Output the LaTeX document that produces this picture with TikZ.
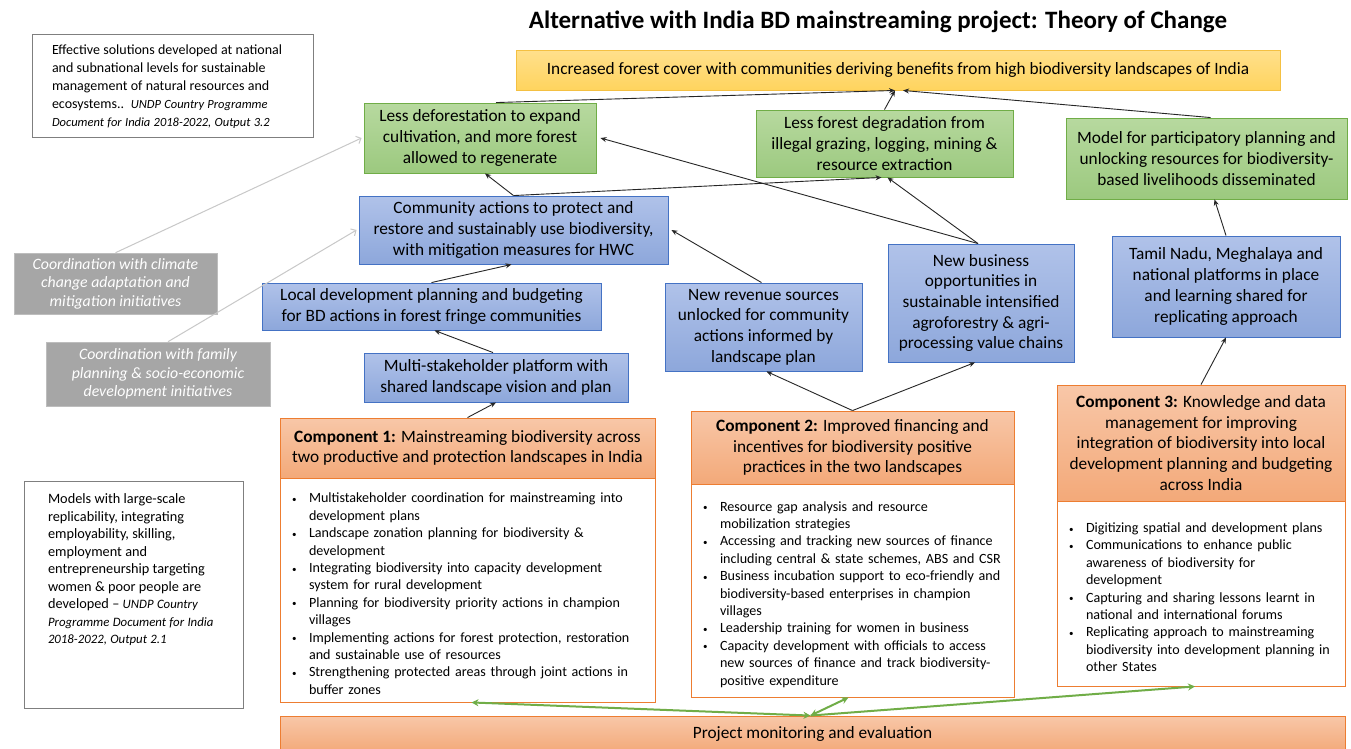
\documentclass[tikz,border=0pt]{standalone}
\usepackage{fontspec}
\setmainfont{Carlito}
\usetikzlibrary{arrows.meta}
\definecolor{yelTop}{HTML}{FFE08C}
\definecolor{yelBot}{HTML}{FFD45E}
\definecolor{yelLine}{HTML}{F4C042}
\definecolor{grTop}{HTML}{B7D99F}
\definecolor{grBot}{HTML}{9CC97F}
\definecolor{grLine}{HTML}{70AD47}
\definecolor{blTop}{HTML}{B0C2E9}
\definecolor{blBot}{HTML}{8DA7DB}
\definecolor{blLine}{HTML}{4472C4}
\definecolor{orTop}{HTML}{F8C7A8}
\definecolor{orBot}{HTML}{F3A979}
\definecolor{orLine}{HTML}{ED7D31}
\definecolor{gyFill}{HTML}{A6A6A6}
\definecolor{gyEdge}{HTML}{BDBDBD}
\definecolor{gyArrow}{HTML}{C8C8C8}
\definecolor{wbLine}{HTML}{7F7F7F}
\def\nl{\hfil\break}
\newcommand{\bul}[1]{\par\hangindent=19pt\hangafter=1\noindent\makebox[19pt][l]{\hspace{2pt}{\fontsize{9}{9}\selectfont\raisebox{0.5pt}{\textbullet}}}#1\par}
\tikzset{
  box/.style={rectangle, line width=0.9pt, align=center, inner sep=2pt,
    font=\fontsize{17.3}{20.7}\selectfont},
  yelbox/.style={box, draw=yelLine, top color=yelTop, bottom color=yelBot},
  grbox/.style={box, draw=grLine, top color=grTop, bottom color=grBot},
  blbox/.style={box, draw=blLine, top color=blTop, bottom color=blBot},
  orbox/.style={box, draw=orLine, top color=orTop, bottom color=orBot},
  gybox/.style={box, draw=gyEdge, line width=0.6pt, fill=gyFill, text=white,
    font=\fontsize{15.8}{18.6}\selectfont\itshape},
  wbox/.style={rectangle, draw=wbLine, line width=0.8pt, fill=white, align=left,
    inner sep=0pt},
  bodybox/.style={rectangle, draw=orLine, line width=0.9pt, fill=white,
    align=left, inner xsep=10pt, inner ysep=0pt,
    font=\fontsize{14.1}{17.4}\selectfont},
  arr/.style={draw=black!85, line width=0.9pt, -{Stealth[length=6pt,width=5pt]}},
  garr/.style={draw=gyArrow, line width=1pt, -{Straight Barb[length=4pt,width=8pt]}},
  grn/.style={draw=grLine, line width=2pt, -{Stealth[length=7pt,width=7pt]}},
  grn2/.style={draw=grLine, line width=2pt, {Stealth[length=7pt,width=7pt]}-{Stealth[length=7pt,width=7pt]}},
}
\begin{document}
\begin{tikzpicture}[x=1pt,y=-1pt]
\useasboundingbox (0,0) rectangle (1351,748);
\clip (0,0) rectangle (1351,748);
\fill[white] (0,0) rectangle (1351,748);

% title
\node[font=\fontsize{25}{28}\selectfont\bfseries] (title) at (878,22)
  {Alternative with India BD mainstreaming project: Theory of Change};

% top-left white box
\node[wbox, minimum width=281pt, minimum height=103pt, text width=271pt] (tl) at (172.5,85.5)
  {\hspace*{15pt}\begin{minipage}{255pt}\raggedright\fontsize{14}{18}\selectfont
   \vspace*{2pt}Effective solutions developed at national\\
   and subnational levels for sustainable\\
   management of natural resources and\\
   ecosystems..\ \ {\fontsize{12.5}{18}\selectfont\itshape UNDP Country Programme}\\
   {\fontsize{12.5}{18}\selectfont\itshape Document for India 2018-2022, Output 3.2}
   \end{minipage}};

% goal
\node[yelbox, minimum width=764pt, minimum height=40pt] (yel) at (898,70)
  {Increased forest cover with communities deriving benefits from high biodiversity landscapes of India};

% outcomes (green)
\node[grbox, minimum width=232pt, minimum height=70pt] (g1) at (480,138)
  {Less deforestation to expand\\ cultivation, and more forest\\ allowed to regenerate};
\node[grbox, minimum width=257pt, minimum height=67pt] (g2) at (884.5,143.5)
  {Less forest degradation from\\ illegal grazing, logging, mining \&\\ resource extraction};
\node[grbox, minimum width=281pt, minimum height=81pt] (g3) at (1206.5,158.5)
  {Model for participatory planning and\\ unlocking resources for biodiversity-\\ based livelihoods disseminated};

% outputs (blue)
\node[blbox, minimum width=309pt, minimum height=68pt] (comm) at (513.5,230)
  {Community actions to protect and\\ restore and sustainably use biodiversity,\\ with mitigation measures for HWC};
\node[blbox, minimum width=339pt, minimum height=47pt] (local) at (431.5,306.5)
  {Local development planning and budgeting\\ for BD actions in forest fringe communities};
\node[blbox, minimum width=264pt, minimum height=49pt] (multi) at (496,377.5)
  {Multi-stakeholder platform with\\ shared landscape vision and plan};
\node[blbox, minimum width=197pt, minimum height=88pt] (rev) at (763.5,327)
  {New revenue sources\\ unlocked for community\\ actions informed by\\ landscape plan};
\node[blbox, minimum width=186pt, minimum height=118pt] (bus) at (981,303)
  {New business\\ opportunities in\\ sustainable intensified\\ agroforestry \& agri-\\ processing value chains};
\node[blbox, minimum width=228pt, minimum height=101pt] (tn) at (1226,286.5)
  {Tamil Nadu, Meghalaya and\\ national platforms in place\\ and learning shared for\\ replicating approach};

% gray coordination boxes
\node[gybox, minimum width=203pt, minimum height=61pt] (gy1) at (115.5,283.5)
  {Coordination with climate\\ change adaptation and\\ mitigation initiatives};
\node[gybox, minimum width=224pt, minimum height=64pt] (gy2) at (158,374)
  {Coordination with family\\ planning \& socio-economic\\ development initiatives};

% models box
\node[wbox, minimum width=219pt, minimum height=227pt, text width=219pt] (models) at (133.5,594.5)
  {\hspace*{24pt}\begin{minipage}[c][201pt][t]{190pt}\raggedright\fontsize{14.3}{17.5}\selectfont
   Models with large-scale\\
   replicability, integrating\\
   employability, skilling,\\
   employment and\\
   entrepreneurship targeting\\
   women \& poor people are\\
   developed -- {\fontsize{12.8}{17.5}\selectfont\itshape UNDP Country}\\
   {\fontsize{12.8}{17.5}\selectfont\itshape Programme Document for India}\\
   {\fontsize{12.8}{17.5}\selectfont\itshape 2018-2022, Output 2.1}
   \end{minipage}};

% component headers
\node[orbox, minimum width=375pt, minimum height=60pt] (c1h) at (467.5,448)
  {\textbf{Component 1:} Mainstreaming biodiversity across\\ two productive and protection landscapes in India};
\node[orbox, minimum width=323pt, minimum height=73pt] (c2h) at (852.5,447.5)
  {\textbf{Component 2:} Improved financing and\\ incentives for biodiversity positive\\ practices in the two landscapes};
\node[orbox, minimum width=288pt, minimum height=116pt] (c3h) at (1201,443)
  {\textbf{Component 3:} Knowledge and data\\ management for improving\\ integration of biodiversity into local\\ development planning and budgeting\\ across India};

% component bodies
\node[bodybox, minimum width=375pt, minimum height=224pt, text width=355pt] (c1b) at (467.5,590)
  {\bul{Multistakeholder coordination for mainstreaming into\nl development plans}
   \bul{Landscape zonation planning for biodiversity \&\nl development}
   \bul{Integrating biodiversity into capacity development\nl system for rural development}
   \bul{Planning for biodiversity priority actions in champion\nl villages}
   \bul{Implementing actions for forest protection, restoration\nl and sustainable use of resources}
   \bul{Strengthening protected areas through joint actions in\nl buffer zones}};
\node[bodybox, minimum width=323pt, minimum height=213pt, text width=303pt] (c2b) at (852.5,590.5)
  {\bul{Resource gap analysis and resource\nl mobilization strategies}
   \bul{Accessing and tracking new sources of finance\nl including central \& state schemes, ABS and CSR}
   \bul{Business incubation support to eco-friendly and\nl biodiversity-based enterprises in champion\nl villages}
   \bul{Leadership training for women in business}
   \bul{Capacity development with officials to access\nl new sources of finance and track biodiversity-\nl positive expenditure}};
\node[bodybox, minimum width=288pt, minimum height=185pt, text width=268pt] (c3b) at (1201,593.5)
  {\bul{Digitizing spatial and development plans}
   \bul{Communications to enhance public\nl awareness of biodiversity for\nl development}
   \bul{Capturing and sharing lessons learnt in\nl national and international forums}
   \bul{Replicating approach to mainstreaming\nl biodiversity into development planning in\nl other States}};

% monitoring
\node[orbox, minimum width=1065pt, minimum height=36pt] (pme) at (812.5,734)
  {Project monitoring and evaluation};

% black arrows
\draw[arr] ([xshift=16pt]g1.north) -- ([xshift=-3pt]yel.south);
\draw[arr] (g2.north) -- ([xshift=-3pt]yel.south);
\draw[arr] ([xshift=4pt]g3.north) -- ([xshift=5pt]yel.south);
\draw[arr] (comm.north) -- ([xshift=5pt]g1.south);
\draw[arr] (comm.north) -- ([xshift=-3pt]g2.south);
\draw[arr] ([xshift=-3pt]bus.north) -- ([xshift=4pt]g1.east);
\draw[arr] ([xshift=-3pt]bus.north) -- ([xshift=3pt]g2.south);
\draw[arr] ([xshift=-2pt]rev.north) -- ([xshift=3pt]comm.east);
\draw[arr] (local.north) -- ([xshift=-2pt]comm.south);
\draw[arr] ([xshift=-3pt]multi.north) -- ([xshift=3pt]local.south);
\draw[arr] (c1h.north) -- (multi.south);
\draw[arr] (c2h.north) -- ([xshift=3pt]rev.south);
\draw[arr] (c2h.north) -- ([xshift=-6pt]bus.south);
\draw[arr] (c3h.north) -- (tn.south);
\draw[arr] (tn.north) -- ([xshift=8pt]g3.south);

% gray arrows
\draw[garr] (gy1.north) -- ([xshift=-2pt]g1.west);
\draw[garr] ([xshift=10pt]gy2.north) -- ([xshift=-2pt]comm.west);

% green arrows
\coordinate (hub) at ([xshift=-2pt]pme.north);
\draw[grn2] (hub) -- ([xshift=4pt]c1b.south);
\draw[grn2] (hub) -- ([xshift=-4pt]c2b.south);
\draw[grn] (hub) -- ([xshift=-6pt]c3b.south);
\end{tikzpicture}
\end{document}
